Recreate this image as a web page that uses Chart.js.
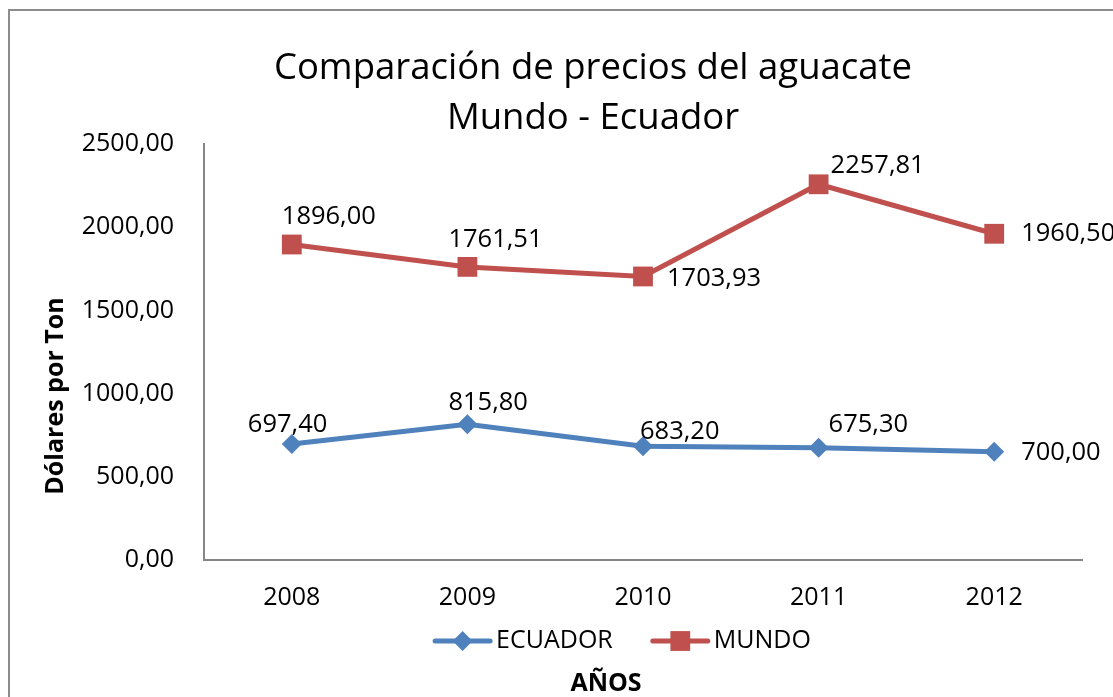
<!DOCTYPE html>
<html lang="es">
<head>
  <meta charset="UTF-8">
  <title>Comparación de precios del aguacate</title>
  <style>
    html, body { margin: 0; padding: 0; background: #fff; overflow: hidden; }
    #wrap { width: 1113px; height: 697px; position: relative; }
  </style>
  <script src="https://cdn.jsdelivr.net/npm/chart.js"></script>
</head>
<body>
  <div id="wrap"><canvas id="chart" width="1113" height="697"></canvas></div>

  <script>
    // Data
    const years = ['2008', '2009', '2010', '2011', '2012'];
    const ecuador = [697.4, 815.8, 683.2, 675.3, 650];
    const mundo = [1896.0, 1761.51, 1703.93, 2257.81, 1960.5];
    // the labels as they are printed on the chart (the last Ecuador label says 700,00)
    const ecuadorLabels = ['697,40', '815,80', '683,20', '675,30', '700,00'];
    const mundoLabels = ['1896,00', '1761,51', '1703,93', '2257,81', '1960,50'];
    const yTicks = [0, 500, 1000, 1500, 2000, 2500];

    const FONT = "'Open Sans', 'Noto Sans', sans-serif";
    const BLUE = '#4F81BD';
    const RED = '#C0504D';

    // where each value label sits, relative to its point (left edge, vertical centre)
    const labelOffsets = [
      [[-44, -19], [-19, -22], [-3, -15], [10, -23], [27, 1]],
      [[-10, -28], [-19, -27], [24, 2], [12, -19], [27, 0]]
    ];

    const fmt = v => v.toFixed(2).replace('.', ',');

    // titles, legend, value labels and the outer frame
    const decorations = {
      id: 'decorations',
      afterDatasetsDraw(chart) {
        const ctx = chart.ctx;
        ctx.save();

        // outer frame
        ctx.strokeStyle = '#8c8c8c';
        ctx.lineWidth = 2;
        ctx.strokeRect(9, 10, 1200, 800);

        // value labels
        ctx.fillStyle = '#000';
        ctx.font = '25.5px ' + FONT;
        ctx.textAlign = 'left';
        ctx.textBaseline = 'middle';
        const texts = [ecuadorLabels, mundoLabels];
        chart.data.datasets.forEach((ds, i) => {
          chart.getDatasetMeta(i).data.forEach((pt, j) => {
            const off = labelOffsets[i][j];
            ctx.fillText(texts[i][j], pt.x + off[0], pt.y + off[1]);
          });
        });

        // chart title
        ctx.textAlign = 'center';
        ctx.textBaseline = 'alphabetic';
        ctx.font = '36.5px ' + FONT;
        ctx.fillText('Comparación de precios del aguacate', 593, 79);
        ctx.fillText('Mundo - Ecuador', 593, 129);

        // axis titles
        ctx.font = 'bold 25px ' + FONT;
        ctx.textBaseline = 'middle';
        ctx.fillText('AÑOS', 606, 684);
        ctx.save();
        ctx.translate(56, 396);
        ctx.rotate(-Math.PI / 2);
        ctx.fillText('Dólares por Ton', 0, 0);
        ctx.restore();

        // legend
        ctx.font = '25px ' + FONT;
        ctx.textAlign = 'left';
        const items = chart.data.datasets.map(ds => ({
          text: ds.label, color: ds.borderColor, style: ds.pointStyle, r: ds.pointRadius,
          w: 55 + 6 + ctx.measureText(ds.label).width
        }));
        const gap = 40;
        const total = items.reduce((s, it) => s + it.w, 0) + gap * (items.length - 1);
        let x = 623 - total / 2;
        const y = 641;
        items.forEach(it => {
          ctx.strokeStyle = it.color;
          ctx.lineWidth = 5;
          ctx.lineCap = 'round';
          ctx.beginPath();
          ctx.moveTo(x, y);
          ctx.lineTo(x + 55, y);
          ctx.stroke();
          ctx.fillStyle = it.color;
          Chart.helpers.drawPoint(ctx, { pointStyle: it.style, radius: it.r, borderWidth: 0 }, x + 27.5, y);
          ctx.fillStyle = '#000';
          ctx.fillText(it.text, x + 61, y);
          x += it.w + gap;
        });

        ctx.restore();
      }
    };

    new Chart(document.getElementById('chart'), {
      type: 'line',
      data: {
        labels: years,
        datasets: [
          {
            label: 'ECUADOR',
            data: ecuador,
            borderColor: BLUE,
            backgroundColor: BLUE,
            borderWidth: 5,
            pointStyle: 'rectRot',
            pointRadius: 10,
            pointBorderWidth: 0,
            tension: 0
          },
          {
            label: 'MUNDO',
            data: mundo,
            borderColor: RED,
            backgroundColor: RED,
            borderWidth: 5,
            pointStyle: 'rect',
            pointRadius: 14,
            pointBorderWidth: 0,
            tension: 0
          }
        ]
      },
      options: {
        responsive: false,
        animation: false,
        events: [],
        layout: { padding: { left: 0, top: 144, right: 31, bottom: 0 } },
        plugins: {
          legend: { display: false },
          title: { display: false },
          tooltip: { enabled: false }
        },
        scales: {
          x: {
            offset: true,
            grid: { display: false, drawTicks: false },
            border: { display: true, color: '#868686', width: 2 },
            ticks: { color: '#000', font: { family: FONT, size: 25 }, padding: 23 },
            afterFit: s => { s.height = 137; }
          },
          y: {
            min: 0,
            max: 2500,
            grid: { display: false, drawTicks: false },
            border: { display: true, color: '#868686', width: 2 },
            afterBuildTicks: s => { s.ticks = yTicks.map(v => ({ value: v })); },
            ticks: {
              color: '#000',
              font: { family: FONT, size: 25 },
              padding: 30,
              callback: v => fmt(v)
            },
            afterFit: s => { s.width = 204; }
          }
        }
      },
      plugins: [decorations]
    });
  </script>
</body>
</html>
